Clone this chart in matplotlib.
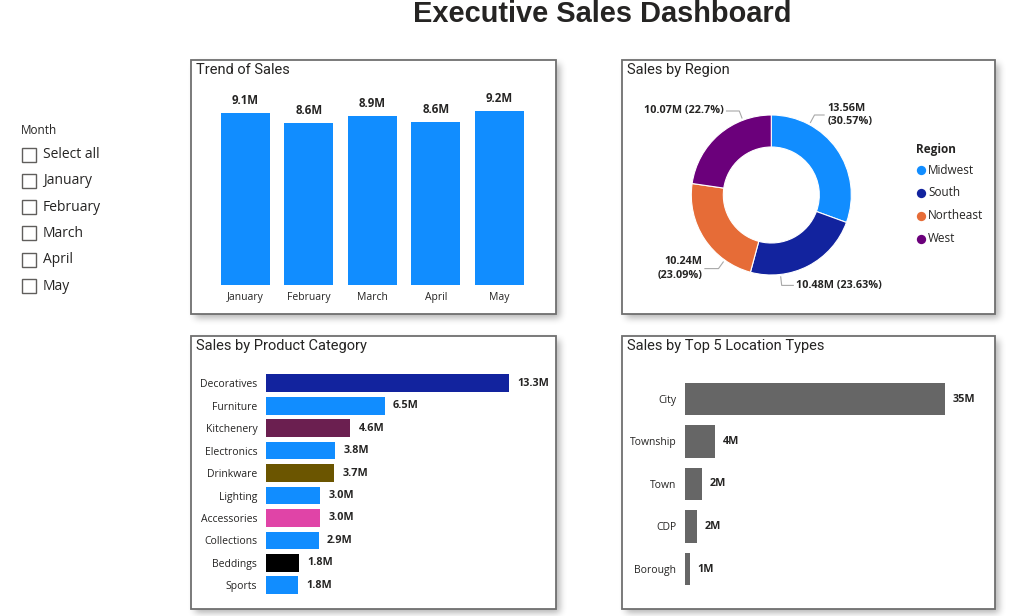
import matplotlib
matplotlib.use("Agg")
import matplotlib.pyplot as plt
from matplotlib.patches import Rectangle
import numpy as np

# data
months = ["January", "February", "March", "April", "May"]
month_sales = [9.10, 8.57, 8.94, 8.63, 9.20]

regions = ["Midwest", "South", "Northeast", "West"]
region_sales = [13.56, 10.48, 10.24, 10.07]
region_pct = [30.57, 23.63, 23.09, 22.70]
region_colors = ["#118DFF", "#12239E", "#E66C37", "#6B007B"]

categories = ["Decoratives", "Furniture", "Kitchenery", "Electronics", "Drinkware",
              "Lighting", "Accessories", "Collections", "Beddings", "Sports"]
category_sales = [13.3, 6.5, 4.63, 3.81, 3.73, 2.98, 2.97, 2.90, 1.82, 1.77]
category_colors = ["#12239E", "#118DFF", "#6B1F50", "#118DFF", "#6B5500",
                   "#118DFF", "#E044A7", "#118DFF", "#000000", "#118DFF"]

locations = ["City", "Township", "Town", "CDP", "Borough"]
location_sales = [35.0, 4.07, 2.33, 1.65, 0.67]

slicer_items = ["Select all", "January", "February", "March", "April", "May"]

TXT = "#252423"
BODY = "Open Sans"
HEAD = "Roboto"

W, H = 1025, 616
fig = plt.figure(figsize=(W / 100, H / 100), dpi=100)
fig.patch.set_facecolor("white")

bg = fig.add_axes([0, 0, 1, 1])
bg.set_xlim(0, W)
bg.set_ylim(H, 0)
bg.axis("off")

panels = [
    (191, 60, 556, 314, "Trend of Sales"),
    (622, 60, 995, 314, "Sales by Region"),
    (191, 336, 556, 609, "Sales by Product Category"),
    (622, 336, 995, 609, "Sales by Top 5 Location Types"),
]

# soft drop shadow under the cards (blurred mask)
mask = np.zeros((H, W))
for x0, y0, x1, y1, _ in panels:
    mask[y0 + 4:y1 + 4, x0 + 4:x1 + 4] = 1.0
k = np.ones(7) / 7
for _ in range(3):
    mask = np.apply_along_axis(lambda r: np.convolve(r, k, mode="same"), 1, mask)
    mask = np.apply_along_axis(lambda c: np.convolve(c, k, mode="same"), 0, mask)
shadow = np.zeros((H, W, 4))
shadow[..., 3] = mask * 0.3
bg.imshow(shadow, extent=(0, W, H, 0), interpolation="bilinear", zorder=0)
bg.set_xlim(0, W)
bg.set_ylim(H, 0)
bg.set_aspect("auto")


def panel(x0, y0, x1, y1, title):
    bg.add_patch(Rectangle((x0, y0), x1 - x0, y1 - y0, facecolor="white",
                           edgecolor="#6f6f6f", lw=1.3, zorder=1))
    bg.text(x0 + 5, y0 + 10, title, fontsize=10.5, family=HEAD, color=TXT,
            va="center", ha="left", zorder=2)


fig.text(602 / W, 1 - 14 / H, "Executive Sales Dashboard", fontsize=20.9,
         fontweight="bold", family="Liberation Sans", color=TXT,
         ha="center", va="center")

# month slicer
bg.text(21, 131, "Month", fontsize=8.5, family=BODY, color=TXT, va="center")
for i, item in enumerate(slicer_items):
    yc = 154.5 + i * 26.3
    bg.add_patch(Rectangle((22, yc - 7), 14, 14, facecolor="white",
                           edgecolor="#605E5C", lw=1))
    bg.text(43, yc, item, fontsize=10, family=BODY, color=TXT, va="center")

for p in panels:
    panel(*p)


def px_axes(x0, y0, x1, y1):
    ax = fig.add_axes([x0 / W, 1 - y1 / H, (x1 - x0) / W, (y1 - y0) / H])
    ax.patch.set_visible(False)
    for s in ax.spines.values():
        s.set_visible(False)
    return ax


# trend of sales
ax1 = px_axes(191, 80, 556, 285)
step = 63.5
left = -(245.2 - 191) / step
ax1.set_xlim(left, left + (556 - 191) / step)
ax1.set_ylim(0, (285 - 80) / 18.87)
x = np.arange(len(months))
ax1.bar(x, month_sales, width=0.77, color="#118DFF")
for xi, v in zip(x, month_sales):
    ax1.annotate(f"{v:.1f}M", (xi, v), xytext=(0, 9), textcoords="offset points",
                 ha="center", va="center", fontsize=8.3, fontweight="bold",
                 family=BODY, color=TXT)
ax1.set_xticks(x, months)
ax1.set_yticks([])
ax1.tick_params(axis="x", length=0, pad=5, labelsize=7.5, labelcolor=TXT)
for t in ax1.get_xticklabels():
    t.set_family(BODY)

# sales by region donut
ax2 = px_axes(771.3 - 100, 95, 771.3 + 100, 295)
ax2.set_xlim(-1.25, 1.25)
ax2.set_ylim(-1.25, 1.25)
ax2.set_aspect("equal")
ax2.axis("off")
wedges, _ = ax2.pie(region_sales, colors=region_colors, startangle=90,
                    counterclock=False, radius=1,
                    wedgeprops=dict(width=0.4, edgecolor="white", linewidth=0.8))

# label layout: elbow point, end of horizontal leader, text anchor
lab_layout = [
    ((0.54, 1.00), 0.66, "left", "{v:.2f}M\n({p}%)"),
    ((0.13, -1.13), 0.275, "left", "{v:.2f}M ({p}%)"),
    ((-0.66, -0.92), -0.83, "right", "{v:.2f}M\n({p}%)"),
    ((-0.40, 1.05), -0.56, "right", "{v:.2f}M ({p}%)"),
]
for w, v, p, (elbow, xend, ha, fmt) in zip(wedges, region_sales, region_pct, lab_layout):
    a = np.degrees(np.arctan2(elbow[1], elbow[0]))
    lo, hi = sorted([w.theta1, w.theta2])
    a = (a - lo) % 360 + lo
    a = min(max(a, lo + 3), hi - 3)
    sx, sy = 1.03 * np.cos(np.radians(a)), 1.03 * np.sin(np.radians(a))
    ax2.plot([sx, elbow[0], xend], [sy, elbow[1], elbow[1]], color="#a8a8a8",
             lw=0.8, clip_on=False)
    ptxt = f"{p:.2f}".rstrip("0").rstrip(".")
    tx = xend + (0.04 if ha == "left" else -0.03)
    ax2.text(tx, elbow[1], fmt.format(v=v, p=ptxt), ha=ha, va="center",
             fontsize=7.8, fontweight="bold", family=BODY, color=TXT,
             linespacing=1.35)

bg.text(916, 150, "Region", fontsize=8.5, fontweight="bold", family=BODY,
        color=TXT, va="center", zorder=3)
for i, (r, c) in enumerate(zip(regions, region_colors)):
    yc = 170 + i * 22.9
    bg.scatter([921], [yc], s=45, color=c, lw=0, zorder=3)
    bg.text(928, yc, r, fontsize=8.5, family=BODY, color=TXT, va="center", zorder=3)

# sales by product category
ax3 = px_axes(265.7, 383.3 - 11.22, 540, 585.3 + 11.22)
ax3.set_xlim(0, (540 - 265.7) / 18.3)
ax3.set_ylim(len(categories) - 0.5, -0.5)
y = np.arange(len(categories))
ax3.barh(y, category_sales, height=0.79, color=category_colors)
for yi, v in zip(y, category_sales):
    ax3.annotate(f"{v:.1f}M", (v, yi), xytext=(6, 0), textcoords="offset points",
                 ha="left", va="center", fontsize=7.8, fontweight="bold",
                 family=BODY, color=TXT)
ax3.set_yticks(y, categories)
ax3.set_xticks([])
ax3.tick_params(axis="y", length=0, pad=6, labelsize=7.5, labelcolor=TXT)
for t in ax3.get_yticklabels():
    t.set_family(BODY)

# sales by top 5 location types
ax4 = px_axes(684.7, 399 - 21.25, 985, 569 + 21.25)
ax4.set_xlim(0, (985 - 684.7) / 7.44)
ax4.set_ylim(len(locations) - 0.5, -0.5)
y = np.arange(len(locations))
ax4.barh(y, location_sales, height=0.77, color="#666666")
for yi, v in zip(y, location_sales):
    ax4.annotate(f"{v:.0f}M", (v, yi), xytext=(5.5, 0), textcoords="offset points",
                 ha="left", va="center", fontsize=7.8, fontweight="bold",
                 family=BODY, color=TXT)
ax4.set_yticks(y, locations)
ax4.set_xticks([])
ax4.tick_params(axis="y", length=0, pad=6, labelsize=7.5, labelcolor=TXT)
for t in ax4.get_yticklabels():
    t.set_family(BODY)

fig.savefig("out.png", dpi=100, facecolor="white")
